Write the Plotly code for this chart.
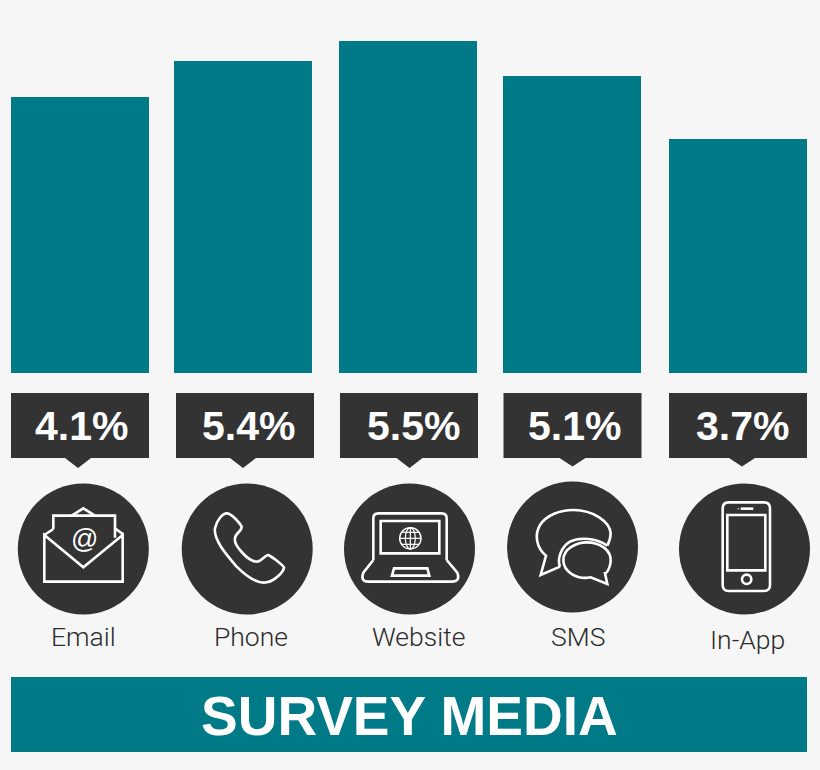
import re
import plotly.graph_objects as go

categories = ["Email", "Phone", "Website", "SMS", "In-App"]
bar_heights = [276, 312, 332, 297, 234]
value_labels = ["4.1%", "5.4%", "5.5%", "5.1%", "3.7%"]
title_text = "SURVEY MEDIA"

TEAL = "#007a87"
DARK = "#333333"
BG = "#f6f6f6"
WHITE = "#ffffff"

# Layout of the decorations, in page pixels
box_left = [11, 176, 340, 503.5, 669]
box_w = 138
tip_x = [78, 243, 409.5, 572.5, 742]
tip_y = [468, 468, 468, 466.5, 466.5]
value_x = [81, 248.5, 413.5, 574.5, 742.5]
circle_x = [83.3, 247.2, 409.5, 572.5, 744.5]
circle_y = [549, 549, 549, 547, 549]
circle_r = 65.5
label_x = [83, 250.5, 418, 578, 747]
label_y = [636, 636, 636, 636, 639]
bar_nudge_px = [0, -1.5, -1, -1.5, 0]

shapes = []


def rect(x0, y0, x1, y1, fill):
    shapes.append(dict(type="rect", xref="x2", yref="y2", x0=x0, y0=y0, x1=x1, y1=y1,
                       fillcolor=fill, line=dict(width=0), layer="above"))


def zpath(d, ox, oy, fill=None, width=2.6, color=WHITE):
    """Path written in 3x zoom coordinates of a crop whose corner is at (ox, oy)."""
    idx = [0]

    def conv(m):
        v = float(m.group(0))
        i = idx[0]
        idx[0] += 1
        return f"{v / 3 + (ox if i % 2 == 0 else oy):.2f}"

    out = re.sub(r"-?\d+\.?\d*", conv, d)
    shapes.append(dict(type="path", xref="x2", yref="y2", path=out,
                       fillcolor=fill if fill else "rgba(0,0,0,0)",
                       line=dict(color=color, width=width), layer="above"))


def ellipse_path(cx, cy, rx, ry):
    return (f"M{cx - rx},{cy} C{cx - rx},{cy - ry * 0.552} {cx - rx * 0.552},{cy - ry} {cx},{cy - ry} "
            f"C{cx + rx * 0.552},{cy - ry} {cx + rx},{cy - ry * 0.552} {cx + rx},{cy} "
            f"C{cx + rx},{cy + ry * 0.552} {cx + rx * 0.552},{cy + ry} {cx},{cy + ry} "
            f"C{cx - rx * 0.552},{cy + ry} {cx - rx},{cy + ry * 0.552} {cx - rx},{cy} Z")


# Callouts and circles
for i in range(5):
    x0 = box_left[i]
    x1 = x0 + box_w
    shapes.append(dict(type="path", xref="x2", yref="y2", layer="above",
                       path=f"M{x0},393 L{x1},393 L{x1},458 L{tip_x[i] + 13},458 L{tip_x[i]},{tip_y[i]} "
                            f"L{tip_x[i] - 13},458 L{x0},458 Z",
                       fillcolor=DARK, line=dict(width=0)))
    shapes.append(dict(type="circle", xref="x2", yref="y2", layer="above",
                       x0=circle_x[i] - circle_r, x1=circle_x[i] + circle_r,
                       y0=circle_y[i] - circle_r, y1=circle_y[i] + circle_r,
                       fillcolor=DARK, line=dict(width=0)))

# Bottom band
rect(11, 677, 807, 752, TEAL)

# Envelope
O = (0, 385)
zpath("M133,450 L133,590 L368,590 L368,450 L250,547 Z", *O)
zpath("M133,450 L160,432", *O)
zpath("M368,447 L345,430", *O)
zpath("M160,432 L160,392 L345,392 L345,458", *O)
zpath("M215,392 L250,370 L285,392", *O)

# Handset
zpath("M680,385 C668,385 650,405 645,430 C640,465 680,510 710,545 C745,580 775,597 800,592 "
      "C825,588 850,560 852,548 C850,540 815,515 805,510 C795,510 785,530 770,530 "
      "C745,530 700,480 705,460 C705,445 725,440 725,425 C720,415 695,385 680,385 Z", 0, 385)

# Laptop
O = (330, 385)
zpath("M130,525 L130,400 Q130,385 145,385 L335,385 Q350,385 350,400 L350,525", *O)
zpath("M130,525 L100,563 Q90,590 115,590 L365,590 Q392,590 382,563 L350,525", *O)
zpath("M152,408 L328,408 L328,505 L152,505 Z", *O)
zpath("M192,550 L292,550 L298,572 L186,572 Z", *O)
zpath(ellipse_path(241, 460, 32, 32), *O, width=1.4)
zpath(ellipse_path(241, 460, 15, 32), *O, width=1.2)
zpath("M241,428 L241,492", *O, width=1.2)
zpath("M209,460 L273,460", *O, width=1.2)
zpath("M215,442 L267,442", *O, width=1.2)
zpath("M215,478 L267,478", *O, width=1.2)

# Speech bubbles
O = (330, 385)
zpath("M690,545 L632,570 L648,512 C620,490 612,450 630,420 C650,390 690,375 730,375 "
      "C790,375 840,410 842,445 C842,455 838,470 832,482", *O)
zpath("M832,482 C800,460 750,455 720,470 C695,485 680,520 690,545", *O)
zpath("M832,597 L782,577 C740,585 700,560 700,525 C700,490 740,472 770,472 "
      "C810,472 845,495 842,530 C840,550 830,565 825,565 Z", *O)

# Smartphone
O = (640, 385)
zpath("M266,352 L372,352 Q390,352 390,370 L390,600 Q390,618 372,618 L266,618 Q248,618 248,600 "
      "L248,370 Q248,352 266,352 Z", *O)
zpath("M262,390 L376,390 L376,556 L262,556 Z", *O)
zpath("M302,371 L340,371", *O)
zpath("M293,371 L296,371", *O, width=1.5)
zpath(ellipse_path(320, 583, 14, 14), *O)

annotations = []


def text(x, y, s, size, color, weight="normal", family="Liberation Sans"):
    annotations.append(dict(xref="x2", yref="y2", x=x, y=y, text=s, showarrow=False,
                            xanchor="center", yanchor="middle",
                            font=dict(family=family, size=size, color=color, weight=weight)))


for i in range(5):
    text(value_x[i], 425.5, value_labels[i], 41, WHITE, "bold")
    text(label_x[i], label_y[i], categories[i], 26.5, "#2b2b2b", 300, "Roboto")
text(84, 539, "@", 27, WHITE)
text(409, 716, title_text, 55, WHITE, "bold")

step = 164.5
bar_w = 138 / step
fig = go.Figure()
fig.add_trace(go.Bar(x=categories, y=bar_heights, marker=dict(color=TEAL, line=dict(width=0)),
                     width=bar_w, offset=[-bar_w / 2 + n / step for n in bar_nudge_px],
                     hoverinfo="x+y"))
# invisible trace so the pixel-scale overlay axes exist
fig.add_trace(go.Scatter(x=[0], y=[0], xaxis="x2", yaxis="y2", mode="markers",
                         marker=dict(opacity=0), hoverinfo="skip"))

fig.update_layout(
    width=820, height=770, margin=dict(l=0, r=0, t=0, b=0),
    paper_bgcolor=BG, plot_bgcolor=BG, showlegend=False,
    xaxis=dict(type="category", categoryorder="array", categoryarray=categories,
               range=[-80 / step, 740 / step], visible=False, fixedrange=True),
    yaxis=dict(range=[-397, 373], visible=False, fixedrange=True),
    xaxis2=dict(range=[0, 820], overlaying="x", visible=False, fixedrange=True),
    yaxis2=dict(range=[770, 0], overlaying="y", visible=False, fixedrange=True),
    shapes=shapes, annotations=annotations,
)
fig.write_html("out.html", config=dict(displayModeBar=False),
               post_script="document.body.style.margin='0';document.body.style.overflow='hidden';"
                           "document.body.style.background='#f6f6f6';")
